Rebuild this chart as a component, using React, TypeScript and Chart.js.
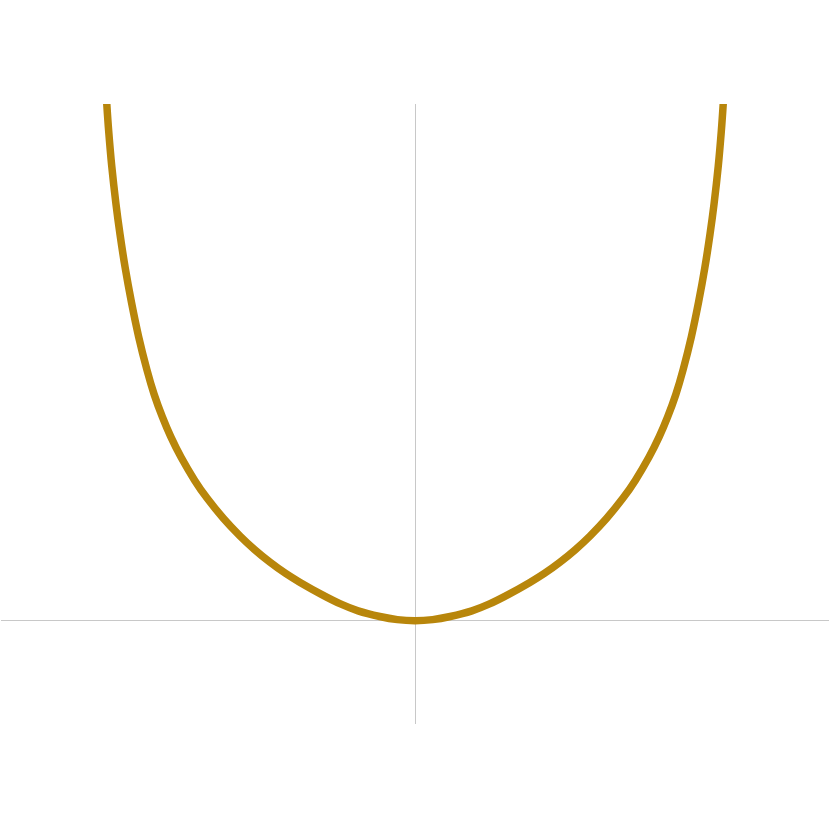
import React, { useEffect, useRef } from "react";
import { Chart, registerables } from "chart.js";

Chart.register(...registerables);

// Right half of the curve (the left half mirrors it)
const xValues = [0, 0.17, 0.34, 0.55, 0.72, 0.9, 1.11, 1.25, 1.4, 1.55, 1.69, 1.85, 2.01, 2.13, 2.26, 2.36, 2.44, 2.52, 2.59, 2.67, 2.74, 2.8, 2.85, 2.89, 2.93, 2.96, 2.98, 3.0];
const yValues = [0, 0.01, 0.04, 0.095, 0.162, 0.252, 0.37, 0.457, 0.565, 0.688, 0.818, 0.988, 1.186, 1.36, 1.581, 1.781, 1.969, 2.189, 2.427, 2.747, 3.083, 3.413, 3.738, 4.038, 4.398, 4.743, 5.033, 5.36];

const xRange = [-4, 4];
const yRange = [-1, 5];

export default function App() {
  const ref = useRef<HTMLCanvasElement | null>(null);

  useEffect(() => {
    if (!ref.current) return;
    const left = xValues
      .map((x, i) => ({ x: -x, y: yValues[i] }))
      .reverse()
      .filter((p) => p.x !== 0);
    const right = xValues.map((x, i) => ({ x, y: yValues[i] }));
    const points = [...left, ...right];

    const gridColor = (ctx: any) => (ctx.tick && ctx.tick.value === 0 ? "#c8c8c8" : "rgba(0,0,0,0)");

    const chart = new Chart(ref.current, {
      type: "line",
      data: {
        datasets: [
          {
            data: points,
            borderColor: "#B8860B",
            borderWidth: 7.5,
            pointRadius: 0,
            fill: false,
            tension: 0.35,
            borderJoinStyle: "round",
            clip: 0,
          } as any,
        ],
      },
      options: {
        animation: false,
        responsive: false,
        layout: { padding: { left: 1, right: 1, top: 104, bottom: 106 } },
        plugins: { legend: { display: false }, tooltip: { enabled: false } },
        scales: {
          x: {
            type: "linear",
            min: xRange[0],
            max: xRange[1],
            ticks: { display: false, stepSize: 1 },
            grid: { color: gridColor, drawTicks: false, lineWidth: 1 },
            border: { display: false },
          },
          y: {
            type: "linear",
            min: yRange[0],
            max: yRange[1],
            ticks: { display: false, stepSize: 1 },
            grid: { color: gridColor, drawTicks: false, lineWidth: 1 },
            border: { display: false },
          },
        },
      },
    });
    return () => chart.destroy();
  }, []);

  return (
    <div style={{ position: "fixed", left: 0, top: 0, width: 830, height: 830, background: "#fff" }}>
      <canvas ref={ref} width={830} height={830} style={{ display: "block" }} />
    </div>
  );
}
